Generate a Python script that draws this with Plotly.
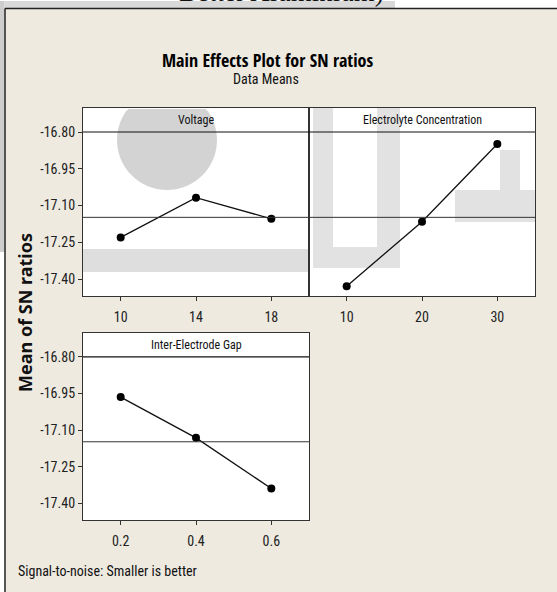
import math
import plotly.graph_objects as go

W, H = 557, 592

# ---- data ----
voltage_levels = [10, 14, 18]
voltage_sn = [-17.230, -17.068, -17.154]
conc_levels = [10, 20, 30]
conc_sn = [-17.429, -17.166, -16.849]
gap_levels = [0.2, 0.4, 0.6]
gap_sn = [-16.965, -17.132, -17.340]
panel_titles = ["Voltage", "Electrolyte Concentration", "Inter-Electrode Gap"]
y_ticks = [-16.80, -16.95, -17.10, -17.25, -17.40]
y_tick_text = ["-16.80", "-16.95", "-17.10", "-17.25", "-17.40"]

grand_mean = sum(voltage_sn + conc_sn + gap_sn) / 9.0

COND = "Roboto Condensed, DejaVu Sans Condensed, sans-serif"
TITLEF = "Open Sans Condensed, Roboto Condensed, sans-serif"
BEIGE = "#eeeae0"
EDGE = "#333333"
WM = "#d3d3d3"


def px(x):
    return x / W


def py(y):
    return 1 - y / H


YRANGE = [-17.469, -16.702]

fig = go.Figure()

panels = [
    dict(xs=voltage_levels, ys=voltage_sn, title=panel_titles[0], xd=(83, 309), yd=(108, 296),
         xr=[8, 20], xt=voltage_levels, ax="x", ay="y", showy=True),
    dict(xs=conc_levels, ys=conc_sn, title=panel_titles[1], xd=(309, 535), yd=(108, 296),
         xr=[5, 35], xt=conc_levels, ax="x2", ay="y2", showy=False),
    dict(xs=gap_levels, ys=gap_sn, title=panel_titles[2], xd=(83, 309), yd=(333, 520),
         xr=[0.1, 0.7], xt=gap_levels, ax="x3", ay="y3", showy=True),
]

shapes = []
annotations = []

# page surroundings (document behind the chart frame)
shapes.append(dict(type="rect", xref="paper", yref="paper", x0=0, x1=1.01, y0=py(8), y1=1.01,
                   fillcolor="white", line=dict(width=0), layer="below"))
shapes.append(dict(type="rect", xref="paper", yref="paper", x0=px(4), x1=px(395), y0=py(8), y1=py(1),
                   fillcolor="#d9d9d9", line=dict(width=0), layer="below"))
shapes.append(dict(type="rect", xref="paper", yref="paper", x0=0, x1=px(4.5), y0=py(592), y1=1.01,
                   fillcolor="white", line=dict(width=0), layer="below"))
shapes.append(dict(type="rect", xref="paper", yref="paper", x0=0, x1=px(4.5), y0=py(252), y1=py(1),
                   fillcolor="#cdcdcd", line=dict(width=0), layer="below"))
shapes.append(dict(type="line", xref="paper", yref="paper", x0=px(5), x1=1.01, y0=py(8.5), y1=py(8.5),
                   line=dict(color="#222222", width=1.5)))
shapes.append(dict(type="line", xref="paper", yref="paper", x0=px(5), x1=px(5), y0=-0.01, y1=py(8.5),
                   line=dict(color="#222222", width=1.5)))

# faint watermark of the source document, seen through the white plot areas
cx, cy, r, top = 167.0, 140.0, 50.0, 109.0
pts = []
for k in range(73):
    a = 2 * math.pi * k / 72
    x = cx + r * math.cos(a)
    y = max(cy + r * math.sin(a), top)
    pts.append("%.5f,%.5f" % (px(x), py(y)))
shapes.append(dict(type="path", xref="paper", yref="paper", layer="below",
                   path="M " + " L ".join(pts) + " Z", fillcolor=WM, line=dict(width=0)))
shapes.append(dict(type="rect", xref="x domain", yref="y domain", layer="below",
                   x0=0, x1=1, y0=(296 - 272) / 188, y1=(296 - 249) / 188,
                   fillcolor="#dedede", line=dict(width=0)))
for (a, b, c, d) in [(313, 333, 108, 268), (377, 400, 108, 252), (313, 400, 247, 268),
                     (455, 535, 190, 222), (500, 520, 150, 222)]:
    shapes.append(dict(type="rect", xref="x2 domain", yref="y2 domain", layer="below",
                       x0=(a - 309) / 226, x1=(b - 309) / 226, y0=(296 - d) / 188, y1=(296 - c) / 188,
                       fillcolor="#e2e2e2", line=dict(width=0)))

for i, p in enumerate(panels):
    n = "" if i == 0 else str(i + 1)
    fig.add_trace(go.Scatter(
        x=p["xs"], y=p["ys"], mode="lines+markers",
        line=dict(color="#111111", width=1.3),
        marker=dict(color="#000000", size=8),
        xaxis=p["ax"], yaxis=p["ay"], showlegend=False, hoverinfo="x+y"))
    xa = dict(domain=[px(p["xd"][0]), px(p["xd"][1])], range=p["xr"], tickvals=p["xt"],
              ticktext=[("%g" % v) for v in p["xt"]], ticks="outside", ticklen=4, tickcolor=EDGE,
              ticklabelstandoff=4,
              showgrid=False, zeroline=False, showline=True, linecolor=EDGE, linewidth=1.3, mirror=True,
              tickfont=dict(family=COND, size=14, color="#222222"), anchor=p["ay"])
    ya = dict(domain=[py(p["yd"][1]), py(p["yd"][0])], range=YRANGE, tickvals=y_ticks,
              ticktext=y_tick_text, showticklabels=p["showy"], ticks="outside" if p["showy"] else "",
              ticklen=4, tickcolor=EDGE, showgrid=False, zeroline=False, showline=True,
              linecolor=EDGE, linewidth=1.3, mirror=True,
              tickfont=dict(family=COND, size=14, color="#222222"), anchor=p["ax"])
    fig.update_layout(**{"xaxis" + n: xa, "yaxis" + n: ya})
    # strip bottom line at -16.80 and grand mean line
    shapes.append(dict(type="line", xref=p["ax"] + " domain", yref=p["ay"], x0=0, x1=1,
                       y0=y_ticks[0], y1=y_ticks[0], line=dict(color="#111111", width=1.2)))
    shapes.append(dict(type="line", xref=p["ax"] + " domain", yref=p["ay"], x0=0, x1=1,
                       y0=grand_mean, y1=grand_mean, line=dict(color="#333333", width=1)))
    annotations.append(dict(text=p["title"], xref=p["ax"] + " domain", yref="paper", x=0.5,
                            y=py(p["yd"][0] + 12), showarrow=False, xanchor="center", yanchor="middle",
                            font=dict(family=COND, size=12, color="#111111")))

# titles
annotations.append(dict(text="<b>Main Effects Plot for SN ratios</b>", xref="paper", yref="paper",
                        x=px(267), y=py(60), showarrow=False, xanchor="center", yanchor="middle",
                        font=dict(family=TITLEF, size=18, color="#000000")))
annotations.append(dict(text="Data Means", xref="paper", yref="paper", x=px(266), y=py(79),
                        showarrow=False, xanchor="center", yanchor="middle",
                        font=dict(family=COND, size=14, color="#111111")))
annotations.append(dict(text="<b>Mean of SN ratios</b>", xref="paper", yref="paper", x=px(25), y=py(313),
                        showarrow=False, textangle=-90, xanchor="center", yanchor="middle",
                        font=dict(family="Noto Sans", size=18, color="#111111")))
annotations.append(dict(text="Signal-to-noise: Smaller is better", xref="paper", yref="paper",
                        x=px(16), y=py(571), showarrow=False, xanchor="left", yanchor="middle",
                        font=dict(family=COND, size=14, color="#111111")))
annotations.append(dict(text="Better Aluminium)", xref="paper", yref="paper", x=px(282), y=py(9),
                        showarrow=False, xanchor="center", yanchor="bottom",
                        font=dict(family="Liberation Serif", size=27, color="#111111")))

fig.update_layout(width=W, height=H, margin=dict(l=0, r=0, t=0, b=0),
                  paper_bgcolor=BEIGE, plot_bgcolor="white",
                  shapes=shapes, annotations=annotations, showlegend=False)

fig.write_html("out.html", config={"displayModeBar": False},
               post_script="document.body.style.margin='0';document.body.style.overflow='hidden';")
